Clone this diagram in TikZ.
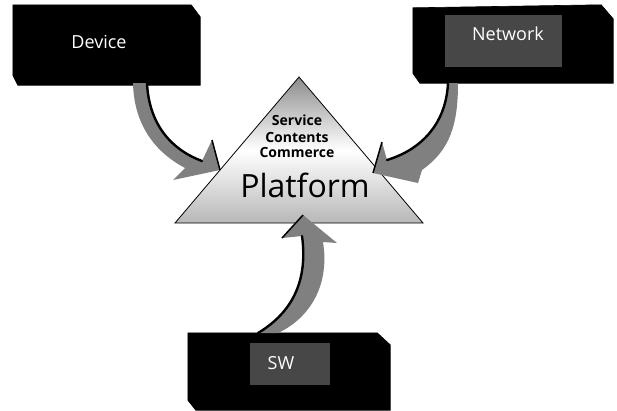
\documentclass[tikz,border=0pt]{standalone}
\usepackage{fontspec}
\setmainfont{Open Sans}
\begin{document}
\begin{tikzpicture}[x=1pt,y=-1pt,
  boxstyle/.style={rectangle, draw=none, inner sep=0pt},
  boxfill/.style={fill=black, draw=black, line width=0.6pt},
  patch/.style={fill=black!72, draw=none, inner sep=0pt},
  boxtext/.style={text=white, font=\fontsize{18}{20}\selectfont, inner sep=0pt},
  smalltext/.style={font=\bfseries\fontsize{14}{15}\selectfont, inner sep=0pt},
  arrowfill/.style={fill=black!50, draw=none},
  innerline/.style={draw=black, line width=2.4pt, line cap=round}
]
\useasboundingbox (0,0) rectangle (617,410);

% boxes
\node[boxstyle, minimum width=187pt, minimum height=80pt] (dev) at (106.5,45) {};
\node[boxstyle, minimum width=200pt, minimum height=78pt] (net) at (513,44) {};
\node[boxstyle, minimum width=202pt, minimum height=77pt] (sw) at (289,371.5) {};
\fill[boxfill] (dev.north west) -- ([xshift=-9pt]dev.north east) -- ([yshift=-12pt]dev.north east)
  -- (dev.south east) -- ([xshift=5pt]dev.south west) -- ([yshift=10pt]dev.south west) -- cycle;
\fill[boxfill] ([yshift=-3pt]net.north west) -- ([xshift=-12pt]net.north east) -- ([yshift=-14pt]net.north east)
  -- (net.south east) -- ([xshift=7pt]net.south west) -- ([yshift=10pt]net.south west) -- cycle;
\fill[boxfill] (sw.north west) -- ([xshift=-13pt]sw.north east) -- ([yshift=-12pt]sw.north east)
  -- (sw.south east) -- ([xshift=8pt]sw.south west) -- ([yshift=10pt]sw.south west) -- cycle;
\node[patch, minimum width=117pt, minimum height=52pt] (netpatch) at (503.5,41) {};
\node[patch, minimum width=80pt, minimum height=42pt] (swpatch) at (290,364) {};
\node[boxtext] (devtxt) at (99,42) {Device};
\node[boxtext] (nettxt) at (508,34) {Network};
\node[boxtext] (swtxt) at (281,363) {SW};

% triangle
\coordinate (apex) at (299,77);
\coordinate (bl) at (175,223);
\coordinate (br) at (423,223);
\path[draw=black, line width=0.8pt, top color=black!45, bottom color=black!28, middle color=white]
  (apex) -- (br) -- (bl) -- cycle;
\node[smalltext] (svc) at (297,120) {Service};
\node[smalltext] (cnt) at (297,137) {Contents};
\node[smalltext] (com) at (297,152) {Commerce};
\node[font=\fontsize{32}{34}\selectfont, inner sep=0pt] (plat) at (305,185) {Platform};

% Device arrow
\coordinate (da1) at (147,83);
\coordinate (da2) at (202,161);
\coordinate (dab) at (212,140);
\coordinate (dat) at (220,170);
\coordinate (dac) at (173,180);
\coordinate (dad) at (185,168);
\coordinate (dae) at (133,83);
\fill[arrowfill] (dae) -- (da1) .. controls (149,125) and (172,150) .. (da2) -- (dab) -- (dat) -- (dac) -- (dad)
  .. controls (155,152) and (134,125) .. (dae) -- cycle;
\draw[innerline] (da1) .. controls (149,125) and (172,150) .. (da2);
\draw[draw=black, line width=1.5pt] (dab) -- (dat);

% Network arrow
\coordinate (na1) at (448,83);
\coordinate (na2) at (387,160);
\coordinate (nab) at (382,142);
\coordinate (nat) at (373,173);
\coordinate (nac) at (418,183);
\coordinate (nad) at (422,170);
\coordinate (nae) at (458,83);
\fill[arrowfill] (nae) -- (na1) .. controls (446,125) and (420,150) .. (na2) -- (nab) -- (nat) -- (nac) -- (nad)
  .. controls (450,150) and (458,125) .. (nae) -- cycle;
\draw[innerline] (na1) .. controls (446,125) and (420,150) .. (na2);
\draw[draw=black, line width=1.5pt] (nab) -- (nat);

% SW arrow
\coordinate (sa1) at (258,333);
\coordinate (sa2) at (302,236);
\coordinate (sab) at (282,238);
\coordinate (sat) at (303,215);
\coordinate (sac) at (337,243);
\coordinate (sad) at (323,242);
\coordinate (sae) at (278,333);
\fill[arrowfill] (sae) -- (sa1) .. controls (293,312) and (308,280) .. (sa2) -- (sab) -- (sat) -- (sac) -- (sad)
  .. controls (330,285) and (310,318) .. (sae) -- cycle;
\draw[innerline] (sa1) .. controls (293,312) and (308,280) .. (sa2);
\draw[draw=black, line width=1.5pt] (sab) -- (sat);
\end{tikzpicture}
\end{document}
